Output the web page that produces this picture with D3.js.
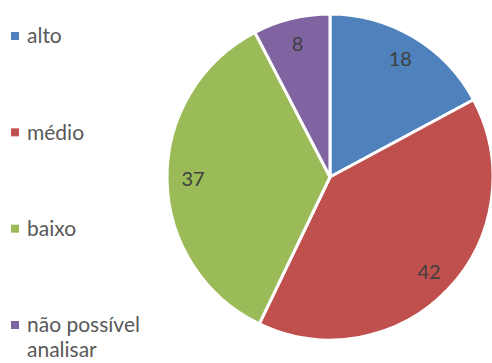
<!DOCTYPE html>
<html>
<head>
<meta charset="utf-8">
<script src="https://cdn.jsdelivr.net/npm/d3@7"></script>
<style>
  body { margin: 0; background: #fff; }
  svg { display: block; font-family: Lato, "Open Sans", sans-serif; }
</style>
</head>
<body>
<svg id="chart" width="492" height="363"></svg>
<script>
const categories = ['alto', 'médio', 'baixo', 'não possível analisar'];
const values = [18, 42, 37, 8];
const legendLines = [['alto'], ['médio'], ['baixo'], ['não possível', 'analisar']];
const colors = ['#4F81BD', '#C0504D', '#9BBB59', '#8064A2'];

const svg = d3.select('#chart');
const cx = 330;
const cy = 177;
const radius = 163;

const data = categories.map((c, i) => ({ name: c, value: values[i], color: colors[i] }));

const pie = d3.pie().sort(null).value(d => d.value);
const arc = d3.arc().innerRadius(0).outerRadius(radius);
const labelArc = d3.arc().innerRadius(137).outerRadius(137);

const g = svg.append('g')
  .attr('transform', `translate(${cx}, ${cy})`);

const slices = pie(data);

g.selectAll('.slice')
  .data(slices)
  .enter()
  .append('path')
  .attr('class', 'slice')
  .attr('d', arc)
  .attr('fill', d => d.data.color)
  .attr('stroke', '#fff')
  .attr('stroke-width', 3)
  .attr('stroke-linejoin', 'round');

g.selectAll('.label')
  .data(slices)
  .enter()
  .append('text')
  .attr('class', 'label')
  .attr('transform', d => `translate(${labelArc.centroid(d)})`)
  .attr('text-anchor', 'middle')
  .attr('dy', '0.35em')
  .attr('fill', '#404040')
  .attr('font-size', 20)
  .text(d => d.data.value);

// legend
const legendY = d3.scalePoint()
  .domain(categories)
  .range([36, 325]);

const legend = svg.selectAll('.legend')
  .data(data)
  .enter()
  .append('g')
  .attr('class', 'legend')
  .attr('transform', d => `translate(11, ${legendY(d.name)})`);

legend.append('rect')
  .attr('x', 0)
  .attr('y', -4)
  .attr('width', 8)
  .attr('height', 8)
  .attr('fill', d => d.color);

legend.each(function (d, i) {
  const t = d3.select(this).append('text')
    .attr('x', 16)
    .attr('fill', '#595959')
    .attr('font-size', 21);
  legendLines[i].forEach((line, j) => {
    t.append('tspan')
      .attr('x', 16)
      .attr('y', j * 25)
      .attr('dy', '0.35em')
      .text(line);
  });
});
</script>
</body>
</html>
